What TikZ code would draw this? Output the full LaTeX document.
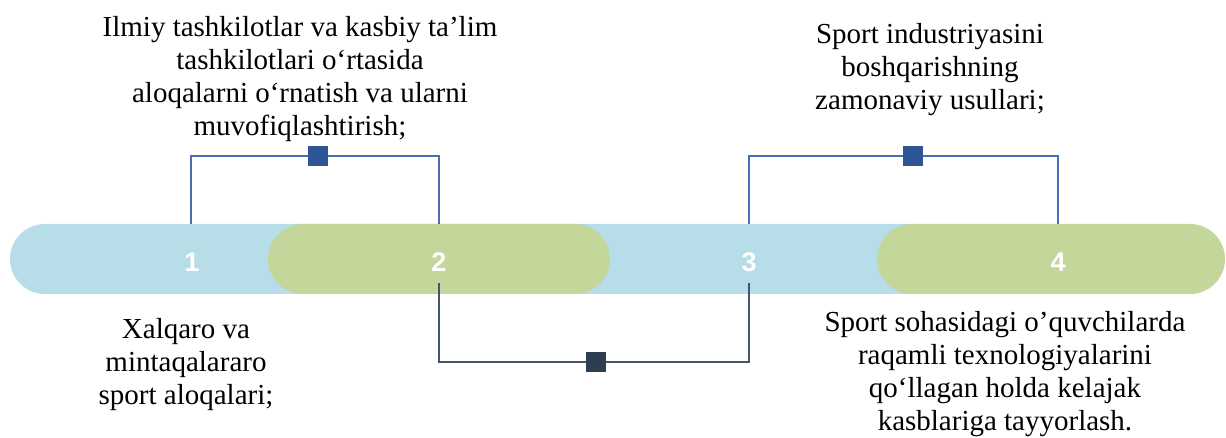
\documentclass[tikz,border=0pt]{standalone}
\usepackage{fontspec}
\setmainfont{Liberation Serif}
\newfontfamily\numfont{Liberation Sans}
\definecolor{pillblue}{HTML}{B7DEE8}
\definecolor{pillgreen}{HTML}{C4D79B}
\definecolor{topline}{HTML}{4A6DB0}
\definecolor{topsq}{HTML}{2F5597}
\definecolor{botline}{HTML}{44546A}
\definecolor{botsq}{HTML}{2C3E50}
\tikzset{
  txt/.style={align=center, inner sep=0pt, font=\fontsize{29}{33.2}\selectfont, text=black},
  num/.style={inner sep=0pt, font=\numfont\bfseries\fontsize{27}{27}\selectfont, text=white},
  toplink/.style={draw=topline, line width=1.2pt},
  botlink/.style={draw=botline, line width=1.5pt},
  topmark/.style={fill=topsq, draw=none, minimum size=20pt, inner sep=0pt},
  botmark/.style={fill=botsq, draw=none, minimum size=20pt, inner sep=0pt},
}
\begin{document}
\begin{tikzpicture}[x=1pt,y=-1pt]
\useasboundingbox (0,0) rectangle (1226,438);
% pills
\fill[pillblue, rounded corners=35pt] (10,224) rectangle (950,294);
\fill[pillgreen, rounded corners=35pt] (268,224) rectangle (610,294);
\fill[pillgreen, rounded corners=35pt] (877,224) rectangle (1225,294);
% numbers
\node[num] (n1) at (192,262) {1};
\node[num] (n2) at (439,262) {2};
\node[num] (n3) at (749,262) {3};
\node[num] (n4) at (1058,262) {4};
% anchor coordinates on the pills
\coordinate (t1) at (191,224);
\coordinate (t2) at (439,224);
\coordinate (t3) at (749,224);
\coordinate (t4) at (1058,224);
\coordinate (b2) at (439,283);
\coordinate (b3) at (749,283);
% markers
\node[topmark] (s1) at (318,156) {};
\node[topmark] (s2) at (913,156) {};
\node[botmark] (s3) at (596,362) {};
% connectors
\draw[toplink] (t1) |- (s1.center) -| (t2);
\draw[toplink] (t3) |- (s2.center) -| (t4);
\draw[botlink] (b2) |- (s3.center) -| (b3);
\node[topmark] at (s1) {};
\node[topmark] at (s2) {};
\node[botmark] at (s3) {};
% texts
\node[txt, anchor=north] (l1) at (300,16) {Ilmiy tashkilotlar va kasbiy ta’lim\\tashkilotlari o‘rtasida\\aloqalarni o‘rnatish va ularni\\muvofiqlashtirish;};
\node[txt, anchor=north] (l2) at (930,23) {Sport industriyasini\\boshqarishning\\zamonaviy usullari;};
\node[txt, anchor=north] (l3) at (186,318) {Xalqaro va\\mintaqalararo\\sport aloqalari;};
\node[txt, anchor=north] (l4) at (1005,311) {Sport sohasidagi o’quvchilarda\\raqamli texnologiyalarini\\qo‘llagan holda kelajak\\kasblariga tayyorlash.};
\end{tikzpicture}
\end{document}
